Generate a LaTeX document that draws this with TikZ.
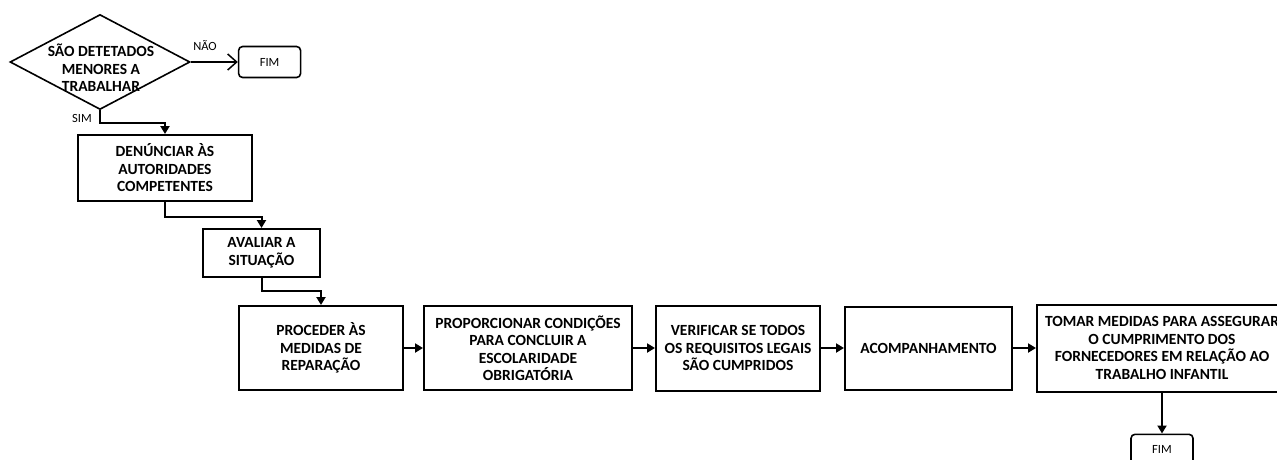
\documentclass[tikz,border=0pt]{standalone}
\usepackage{fontspec}
\setmainfont{Carlito}
\usetikzlibrary{arrows.meta,positioning,shapes.geometric}

\begin{document}
\begin{tikzpicture}[x=1pt,y=-1pt,
      passo/.style={draw, line width=2pt, align=center, inner sep=2pt,
                  font=\fontsize{15.5}{17.5}\selectfont\bfseries},
      fim/.style={draw, line width=1.6pt, rounded corners=4pt,
                  minimum width=62pt, minimum height=31pt,
                  font=\fontsize{12.5}{14}\selectfont},
      decisao/.style={draw, diamond, line width=1.6pt, inner sep=0pt,
                  minimum width=180pt, minimum height=95pt},
      rot/.style={font=\fontsize{12.5}{14}\selectfont},
      arr/.style={-{Triangle[length=8pt,width=9pt]}, line width=2pt},
      arrno/.style={-{Straight Barb[length=9pt,width=16pt]}, line width=1.5pt}
  ]
    \useasboundingbox (0,0) rectangle (1277,459);
    % decisao inicial
    \node[decisao] (dec) at (100,62) {};
    \node[passo, draw=none] (dectxt) at (101,68) {SÃO DETETADOS\\MENORES A\\TRABALHAR};
    \node[fim, right=47pt of dec] (fim1) {FIM};
    \node[rot] (nao) at (205,46) {NÃO};
    \node[rot] (sim) at (82,118) {SIM};
    % passos
    \node[passo, minimum width=174pt, minimum height=66pt] (den) at (165,168)
      {DENÚNCIAR ÀS\\AUTORIDADES\\COMPETENTES};
    \node[passo, minimum width=117pt, minimum height=48pt] (ava) at (261.5,253)
      {AVALIAR A\\SITUAÇÃO};
    \node[passo, minimum width=164pt, minimum height=84pt] (proc) at (321,348)
      {PROCEDER ÀS\\MEDIDAS DE\\REPARAÇÃO};
    \node[passo, minimum width=208pt, minimum height=84pt, right=19pt of proc] (prop)
      {PROPORCIONAR CONDIÇÕES\\PARA CONCLUIR A\\ESCOLARIDADE\\OBRIGATÓRIA};
    \node[passo, minimum width=164pt, minimum height=85pt, right=22pt of prop] (ver)
      {VERIFICAR SE TODOS\\OS REQUISITOS LEGAIS\\SÃO CUMPRIDOS};
    \node[passo, minimum width=167pt, minimum height=83pt, right=23pt of ver] (acom)
      {ACOMPANHAMENTO};
    \node[passo, minimum width=250pt, minimum height=87pt, right=23pt of acom] (tom)
      {TOMAR MEDIDAS PARA ASSEGURAR\\O CUMPRIMENTO DOS\\FORNECEDORES EM RELAÇÃO AO\\TRABALHO INFANTIL};
    \node[fim, below=41pt of tom] (fim2) {FIM};
    % ligacoes
    \draw[arrno] (dec)--(fim1);
    \draw[arr] (dec.south) -- ++(0,13) -| (den.north);
    \draw[arr] (den.south) -- ++(0,15) -| (ava.north);
    \draw[arr] (ava.south) -- ++(0,13) -| (proc.north);
    \draw[arr] (proc)--(prop);
    \draw[arr] (prop)--(ver);
    \draw[arr] (ver)--(acom);
    \draw[arr] (acom)--(tom);
    \draw[arr] (tom)--(fim2);
  \end{tikzpicture}
\end{document}
